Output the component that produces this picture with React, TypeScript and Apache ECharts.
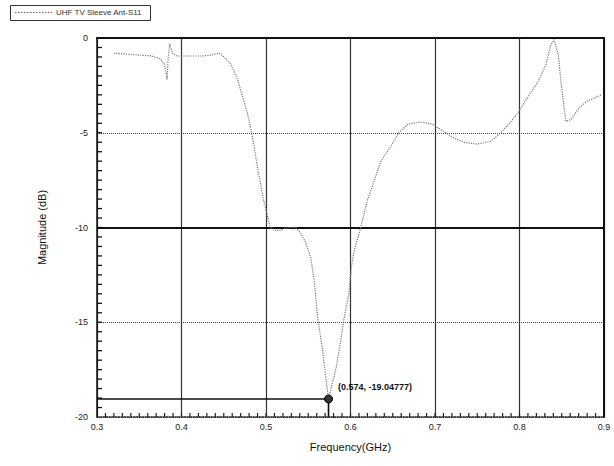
import React, { useEffect, useRef } from "react";
import * as echarts from "echarts";

const freqGHz = [
  0.320, 0.335, 0.350, 0.365, 0.375, 0.380, 0.383, 0.384, 0.386, 0.390,
  0.395, 0.410, 0.425, 0.435, 0.444, 0.449, 0.458, 0.466, 0.472, 0.478,
  0.482, 0.485, 0.491, 0.497, 0.502, 0.505, 0.511, 0.517, 0.522, 0.527,
  0.535, 0.541, 0.547, 0.553, 0.557, 0.561, 0.567, 0.571, 0.574, 0.578,
  0.583, 0.588, 0.592, 0.598, 0.601, 0.604, 0.612, 0.620, 0.636, 0.648,
  0.657, 0.668, 0.683, 0.697, 0.709, 0.722, 0.734, 0.750, 0.766, 0.778,
  0.789, 0.799, 0.810, 0.822, 0.831, 0.837, 0.841, 0.846, 0.849, 0.853,
  0.855, 0.861, 0.871, 0.881, 0.897,
];
const magDB = [
  -0.80, -0.85, -0.90, -0.95, -1.10, -1.40, -2.20, -1.20, -0.30, -0.85,
  -0.95, -0.95, -0.95, -0.90, -0.80, -0.95, -1.35, -2.15, -3.05, -3.95,
  -4.80, -5.50, -7.10, -8.50, -9.45, -9.98, -10.15, -10.15, -10.05, -10.00,
  -10.00, -10.30, -10.80, -11.60, -12.80, -14.70, -16.50, -18.00, -19.05, -18.30,
  -17.40, -16.10, -14.90, -13.50, -12.10, -11.30, -10.00, -8.56, -6.50, -5.70,
  -5.00, -4.55, -4.43, -4.55, -4.90, -5.27, -5.50, -5.60, -5.45, -5.00,
  -4.46, -3.90, -3.10, -2.30, -1.43, -0.36, -0.09, -0.90, -2.30, -3.75,
  -4.40, -4.30, -3.66, -3.30, -3.00,
];
const seriesName = "UHF TV Sleeve Ant-S11";
const xTicks = [0.3, 0.4, 0.5, 0.6, 0.7, 0.8, 0.9];
const yTicks = [0, -5, -10, -15, -20];
const xMinorStep = 0.01;
const yMinorStep = 0.5;
const markerFreq = 0.574;
const markerMag = -19.05;
const markerLabel = "(0.574, -19.04777)";
const refLineMag = -10;

export default function App() {
  const ref = useRef<HTMLDivElement>(null);
  useEffect(() => {
    if (!ref.current) return;
    const chart = echarts.init(ref.current, undefined, { renderer: "svg" });
    const font = "Liberation Sans";
    const xMin = xTicks[0];
    const xMax = xTicks[xTicks.length - 1];
    const yMin = yTicks[yTicks.length - 1];
    const yMax = yTicks[0];

    const xMinor: number[][] = [];
    const nx = Math.round((xMax - xMin) / xMinorStep);
    for (let i = 1; i < nx; i++) xMinor.push([+(xMin + i * xMinorStep).toFixed(3), yMin]);
    const yMinor: number[][] = [];
    const ny = Math.round((yMax - yMin) / yMinorStep);
    for (let i = 1; i < ny; i++) yMinor.push([xMin, yMin + i * yMinorStep]);

    chart.setOption({
      animation: false,
      backgroundColor: "#fff",
      textStyle: { fontFamily: font },
      graphic: [
        {
          type: "rect",
          left: 10,
          top: 5,
          shape: { width: 140, height: 15 },
          style: { fill: "#fff", stroke: "#333", lineWidth: 1 },
        },
        {
          type: "line",
          shape: { x1: 15, y1: 12.5, x2: 52, y2: 12.5 },
          style: { stroke: "#666", lineWidth: 1.2, lineDash: [1.5, 1.5] },
        },
        {
          type: "text",
          left: 56,
          top: 8,
          style: { text: seriesName, fontSize: 8, fill: "#333", fontFamily: font },
        },
      ],
      grid: { left: 97, right: 10, top: 38, bottom: 49 },
      xAxis: [
        {
          type: "value",
          min: xMin,
          max: xMax,
          interval: 0.1,
          name: "Frequency(GHz)",
          nameLocation: "middle",
          nameGap: 24,
          nameTextStyle: { fontSize: 11, color: "#111", fontFamily: font },
          axisLine: { show: true, onZero: false, lineStyle: { color: "#222", width: 1.5, type: "dotted" } },
          axisTick: { show: false },
          axisLabel: { fontSize: 9, color: "#222", margin: 5, formatter: (v: number) => v.toFixed(1) },
          splitLine: { show: true, lineStyle: { color: "#333", width: 1.2, type: "solid" } },
        },
        {
          type: "value",
          position: "top",
          min: xMin,
          max: xMax,
          axisLine: { show: true, onZero: false, lineStyle: { color: "#111", width: 2 } },
          axisTick: { show: false },
          axisLabel: { show: false },
          splitLine: { show: false },
        },
      ],
      yAxis: [
        {
          type: "value",
          min: yMin,
          max: yMax,
          interval: 5,
          name: "Magnitude (dB)",
          nameLocation: "middle",
          nameGap: 50,
          nameTextStyle: { fontSize: 11, color: "#111", fontFamily: font },
          axisLine: { show: true, onZero: false, lineStyle: { color: "#111", width: 1.5 } },
          axisTick: { show: false },
          axisLabel: { fontSize: 9, color: "#222", margin: 9 },
          splitLine: { show: true, lineStyle: { color: "#444", width: 1, type: "dotted" } },
        },
        {
          type: "value",
          position: "right",
          min: yMin,
          max: yMax,
          axisLine: { show: true, onZero: false, lineStyle: { color: "#111", width: 2 } },
          axisTick: { show: false },
          axisLabel: { show: false },
          splitLine: { show: false },
        },
      ],
      series: [
        {
          name: seriesName,
          type: "line",
          symbol: "none",
          data: freqGHz.map((f, i) => [f, magDB[i]]),
          lineStyle: { color: "#777", width: 1.2, type: "dotted" },
          itemStyle: { color: "#777" },
          z: 5,
          markLine: {
            silent: true,
            symbol: "none",
            label: { show: false },
            lineStyle: { color: "#111", width: 2.2, type: "solid" },
            data: [{ yAxis: refLineMag }],
          },
        },
        {
          name: "xMinorTicks",
          type: "scatter",
          silent: true,
          clip: false,
          z: 7,
          symbol: "rect",
          symbolSize: [1.2, 4],
          symbolOffset: [0, -2],
          itemStyle: { color: "#222", opacity: 1 },
          data: xMinor,
        },
        {
          name: "yMinorTicks",
          type: "scatter",
          silent: true,
          clip: false,
          z: 7,
          symbol: "rect",
          symbolSize: [5, 1.3],
          symbolOffset: [2.5, 0],
          itemStyle: { color: "#111", opacity: 1 },
          data: yMinor,
        },
        {
          name: "marker",
          type: "line",
          symbol: "none",
          lineStyle: { color: "#111", width: 1.6 },
          itemStyle: { color: "#111" },
          z: 6,
          data: [
            [xMin, markerMag],
            {
              value: [markerFreq, markerMag],
              symbol: "circle",
              symbolSize: 8,
              itemStyle: { color: "#333", borderColor: "#000", borderWidth: 1 },
              label: {
                show: true,
                position: "right",
                offset: [0, -12],
                formatter: markerLabel,
                fontSize: 9,
                fontWeight: "bold",
                color: "#111",
                fontFamily: font,
              },
            },
            [markerFreq, yMin],
          ],
        },
      ],
    });
    return () => chart.dispose();
  }, []);
  return <div ref={ref} style={{ width: 614, height: 466, position: "absolute", left: 0, top: 0 }} />;
}
